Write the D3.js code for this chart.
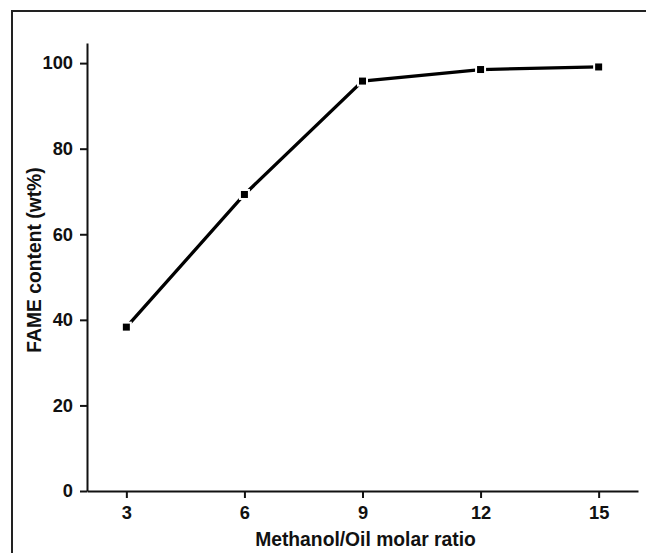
<!DOCTYPE html>
<html>
<head>
<meta charset="utf-8">
<script src="https://d3js.org/d3.v7.min.js"></script>
<style>
  body { margin: 0; background: #fff; }
  svg text { font-family: "Liberation Sans", Arial, sans-serif; font-weight: bold; fill: #111; }
</style>
</head>
<body>
<div id="chart"></div>
<script>
// data
var ratios = [3, 6, 9, 12, 15];
var fame = [38.3, 69.3, 95.8, 98.5, 99.1];
var xTicks = [3, 6, 9, 12, 15];
var yTicks = [0, 20, 40, 60, 80, 100];

var W = 646, H = 553;

var svg = d3.select("#chart").append("svg")
    .attr("width", W)
    .attr("height", H);

// outer frame (runs off the right/bottom edge)
svg.append("rect")
    .attr("x", 12).attr("y", 11)
    .attr("width", W).attr("height", H)
    .attr("fill", "none")
    .attr("stroke", "#222")
    .attr("stroke-width", 2);

var x = d3.scaleLinear().domain([2, 16]).range([87, 638]);
var y = d3.scaleLinear().domain([0, 104.7]).range([491, 43]);

// x axis
var gx = svg.append("g")
    .attr("transform", "translate(0,491)")
    .call(d3.axisBottom(x).tickValues(xTicks).tickSize(7).tickPadding(8).tickSizeOuter(0));

// y axis
var gy = svg.append("g")
    .attr("transform", "translate(87,0)")
    .call(d3.axisLeft(y).tickValues(yTicks).tickSize(7).tickPadding(7).tickSizeOuter(0));

[gx, gy].forEach(function(g) {
    g.selectAll("path, line").attr("stroke", "#111").attr("stroke-width", 2);
    g.selectAll("text").attr("font-size", 18.3).attr("font-family", "Liberation Sans, Arial, sans-serif")
        .attr("font-weight", "bold").attr("fill", "#111");
});

// axis titles
svg.append("text")
    .attr("x", 365.5).attr("y", 545.5)
    .attr("text-anchor", "middle")
    .attr("font-size", 19.3)
    .text("Methanol/Oil molar ratio");

svg.append("text")
    .attr("transform", "translate(41,260)rotate(-90)")
    .attr("text-anchor", "middle")
    .attr("font-size", 19.3)
    .text("FAME content (wt%)");

var pts = ratios.map(function(r, i) { return [r, fame[i]]; });

// connecting line
svg.append("path")
    .datum(pts)
    .attr("fill", "none")
    .attr("stroke", "#000")
    .attr("stroke-width", 3.3)
    .attr("d", d3.line()
        .x(function(d) { return x(d[0]); })
        .y(function(d) { return y(d[1]); }));

// square markers
var s = 9;
svg.selectAll("rect.mk")
    .data(pts)
    .enter()
    .append("rect")
        .attr("class", "mk")
        .attr("x", function(d) { return x(d[0]) - s / 2; })
        .attr("y", function(d) { return y(d[1]) - s / 2; })
        .attr("width", s)
        .attr("height", s)
        .attr("fill", "#000")
        .attr("stroke", "#fff")
        .attr("stroke-width", 2);
</script>
</body>
</html>
